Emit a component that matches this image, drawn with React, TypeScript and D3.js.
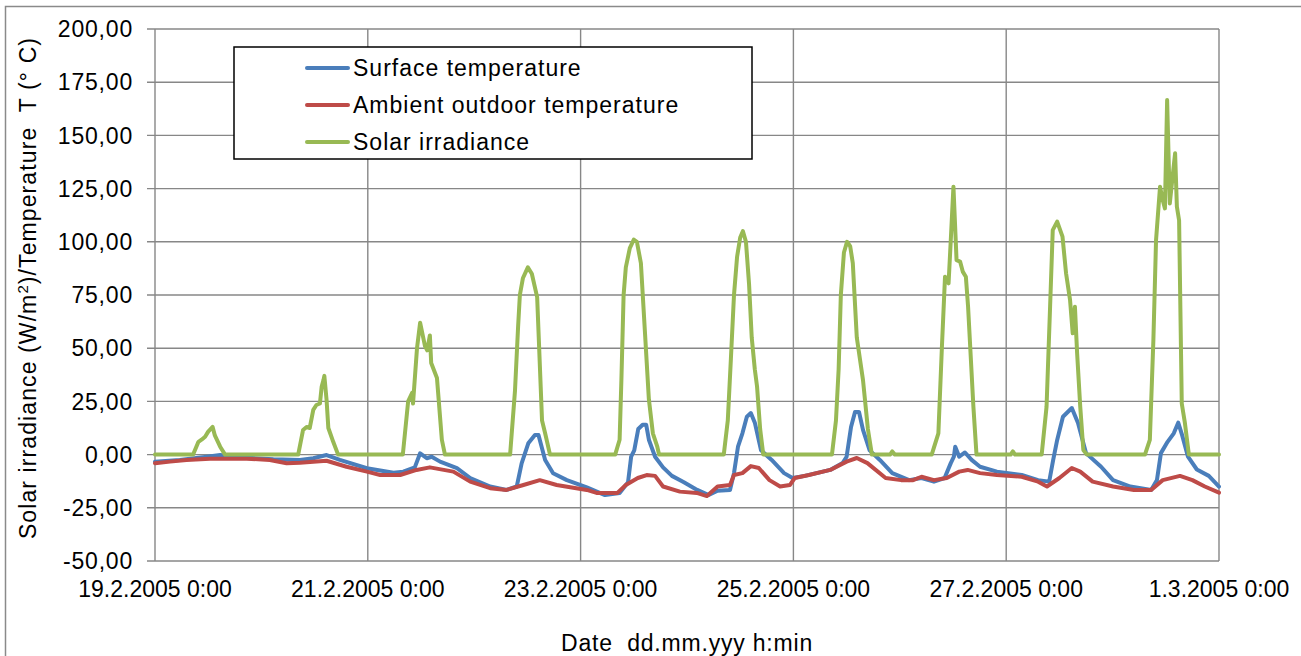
import React from "react";
import * as d3 from "d3";

// hours since 19.2.2005 0:00, value
const surfaceTemp: [number, number][] = [
  [0, -3.3], [5.6, -2.5], [11.7, -1.0], [14.7, -0.2], [19.2, -1.3], [26.7, -2.2], [32.7, -2.5],
  [35.7, -1.7], [38.7, -0.2], [41.7, -2.5], [47.8, -6.4], [53.8, -8.5], [56.0, -8.0], [58.6, -6.0],
  [59.8, 0.6], [61.3, -1.7], [62.4, -1.0], [64.3, -3.3], [68.1, -6.4], [71.1, -11], [75.6, -15],
  [79.3, -16.6], [81.6, -15], [82.7, -4.1], [84.2, 5.3], [85.7, 9.2], [86.5, 9.2], [88.0, -2.5],
  [89.8, -8.8], [92.9, -12], [97.4, -15.4], [101.5, -19], [104.8, -18], [106.7, -13], [107.4, -1],
  [108.1, 2], [109.0, 12], [110.0, 14], [110.8, 14], [111.4, 7], [112.8, -1], [114.6, -6],
  [116.6, -10], [119.3, -13], [122.3, -16.6], [124.9, -19], [126.9, -17], [129.7, -16.6],
  [130.6, -8.7], [131.5, 3.7], [132.5, 10], [133.5, 17.8], [134.4, 19.5], [135.3, 15], [136.7, 2],
  [139.1, -2.5], [141.9, -8.7], [143.8, -11], [146.6, -10], [152.3, -7.2], [155.1, -4], [156.0, -1],
  [157.0, 13], [157.9, 20], [158.8, 20], [159.7, 11.6], [161.2, 2], [163.5, -2.5], [166.3, -8.7],
  [170.1, -12], [172.9, -11], [175.7, -12.7], [178.1, -11], [179.5, -4], [180.2, -1], [180.5, 3.7],
  [181.4, -1], [182.7, 1], [184.2, -2.5], [186.1, -5.7], [189.9, -8], [195.5, -9.6], [199.2, -12],
  [201.7, -12.7], [202.6, -2.5], [203.5, 6.9], [204.8, 17.8], [206.8, 21.9], [208.2, 14.8],
  [210.0, 0.7], [213.4, -5.7], [216.1, -12], [220.0, -15], [224.7, -16.6], [226.0, -12], [226.9, 0.7],
  [228.4, 6], [229.8, 10], [230.8, 15], [231.7, 9], [233.0, -1], [235.0, -7], [237.7, -10], [240, -15],
];

const ambientTemp: [number, number][] = [
  [0, -4.1], [3.4, -3.3], [7.1, -2.5], [12.4, -1.9], [20.7, -1.9], [25.9, -2.5], [29.7, -4.1],
  [32.7, -3.8], [38.7, -2.9], [43.2, -5.7], [47.8, -8], [50.8, -9.6], [55.3, -9.6], [59.0, -7.2],
  [62.0, -6], [67.3, -8], [71.1, -12.7], [75.6, -15.8], [79.3, -16.6], [83.1, -14.3], [86.8, -12],
  [90.6, -14.3], [97.4, -16.6], [99.6, -18], [104.3, -18], [106.2, -14.3], [108.9, -11], [110.9, -9.6],
  [112.8, -10], [114.6, -15], [118.4, -17.4], [122.2, -18], [124.5, -19.5], [126.9, -15], [129.7, -14.3],
  [130.6, -9.6], [132.5, -8.7], [134.4, -5.4], [136.2, -6.3], [138.6, -12], [141.0, -15], [143.2, -14.3],
  [144.3, -11], [147.5, -9.6], [152.3, -7.2], [156.0, -3.3], [158.3, -1.6], [160.7, -4], [164.8, -11],
  [168.3, -12], [171.0, -12], [172.9, -10.4], [175.7, -12], [178.6, -11], [181.4, -8], [183.3, -7.2],
  [186.1, -8.7], [189.9, -9.6], [195.5, -10.4], [199.2, -12.7], [201.2, -15], [204.0, -11], [206.8, -6.3],
  [208.7, -8], [211.5, -12.7], [216.1, -15], [220.8, -16.6], [224.7, -16.6], [227.3, -12], [231.2, -10],
  [234.0, -12], [236.8, -15], [240, -17.9],
];

const solarIrradiance: [number, number][] = [
  [0, 0], [8.6, 0], [9.8, 6], [10.5, 7], [11.3, 8.4], [12.0, 10.8], [13.0, 13], [13.5, 9], [14.7, 3.7], [15.8, 0],
  [32.3, 0], [33.4, 11.6], [34.2, 13], [34.9, 12.5], [35.7, 21], [36.4, 23.3], [37.2, 24], [37.6, 32],
  [38.0, 35], [38.2, 37], [38.7, 25.7], [39.1, 12.5], [40.2, 6], [41.3, 0],
  [55.9, 0], [57.1, 25], [58.0, 29], [58.2, 24], [59.1, 50], [59.8, 62], [60.9, 51], [61.4, 49],
  [62.0, 56], [62.3, 43], [63.6, 36], [64.7, 7], [65.4, 0],
  [80.1, 0], [81.2, 30], [81.9, 60], [82.3, 75], [83.0, 83], [84.1, 88], [85.0, 85], [86.2, 74],
  [87.3, 16], [88.0, 10], [89.1, 0],
  [103.8, 0], [104.8, 7], [105.2, 35], [105.7, 75], [106.2, 88], [107.1, 97], [108.0, 101], [108.7, 100],
  [109.6, 90], [110.5, 58], [111.4, 26], [112.3, 10], [113.3, 3.7], [113.7, 0],
  [128.3, 0], [129.2, 16], [129.9, 45], [130.6, 75], [131.3, 93], [132.0, 102], [132.6, 105], [133.3, 100],
  [134.0, 80], [134.6, 55], [135.3, 40], [135.8, 32], [136.5, 12], [137.2, 0],
  [152.7, 0], [153.6, 16], [154.2, 40], [154.7, 75], [155.4, 95], [156.1, 100], [156.8, 98], [157.4, 90],
  [158.3, 55], [159.7, 35], [160.8, 12], [161.7, 0], [165.8, 0], [166.3, 1.5], [166.9, 0],
  [175.2, 0], [176.7, 10], [177.5, 50.7], [178.2, 83.6], [179.0, 80.5], [179.5, 100.8], [180.1, 125.9],
  [180.8, 91.4], [181.6, 90.7], [182.2, 86], [182.9, 83.6], [183.4, 69.5], [184.6, 22.5], [185.3, 0],
  [193.0, 0], [193.5, 1.5], [194.0, 0],
  [200.0, 0], [201.1, 22.5], [201.9, 69.5], [202.5, 105.5], [203.5, 109.5], [204.7, 102.4], [205.5, 85.2],
  [206.4, 72.7], [207.0, 57], [207.5, 69.5], [208.0, 47.6], [208.7, 22.5], [209.4, 2.2], [210.2, 0],
  [223.3, 0], [224.4, 6.9], [225.2, 53.9], [225.8, 100.8], [226.7, 125.9], [227.3, 119.6], [227.8, 115.7],
  [228.3, 166.6], [228.9, 118], [229.3, 126], [230.1, 141.6], [230.5, 116.5], [231.0, 110], [231.6, 24],
  [232.3, 15], [233.2, 0], [240, 0],
];

const yTicks = [-50, -25, 0, 25, 50, 75, 100, 125, 150, 175, 200];
const xTickDays = [0, 2, 4, 6, 8, 10];

const seriesNames = ["Surface temperature", "Ambient outdoor temperature", "Solar irradiance"];
const seriesColors = ["#4A7EBB", "#BE4B48", "#98B954"];

const start = Date.UTC(2005, 1, 19, 0, 0);
const HOUR = 3600 * 1000;

const left = 155, right = 1219, top = 29, bottom = 561;
const font = "'Liberation Sans', Arial, sans-serif";

const locale = d3.formatLocale({ decimal: ",", thousands: ".", grouping: [3], currency: ["", ""], minus: "-" });
const yFmt = locale.format(".2f");
const xFmt = d3.utcFormat("%-d.%-m.%Y %-H:%M");

export default function App() {
  const x = d3.scaleUtc().domain([new Date(start), new Date(start + 240 * HOUR)]).range([left, right]);
  const y = d3.scaleLinear().domain([-50, 200]).range([bottom, top]);

  const line = d3
    .line<[number, number]>()
    .x((d) => x(new Date(start + d[0] * HOUR)))
    .y((d) => y(d[1]));

  const series = [surfaceTemp, ambientTemp, solarIrradiance];
  const xTicks = xTickDays.map((d) => new Date(start + d * 24 * HOUR));

  return (
    <svg width={1301} height={656} style={{ position: "absolute", left: 0, top: 0, background: "#fff" }} fontFamily={font}>
      <rect x={5.5} y={6.5} width={1400} height={700} fill="#fff" stroke="#8a8a8a" strokeWidth={1.5} />

      {/* grid */}
      {yTicks.map((t) => (
        <line key={"gy" + t} x1={left - 8} x2={right} y1={y(t)} y2={y(t)} stroke="#878787" strokeWidth={1.4} />
      ))}
      {xTicks.map((t, i) => (
        <line key={"gx" + i} x1={x(t)} x2={x(t)} y1={top} y2={bottom} stroke="#878787" strokeWidth={1.4} />
      ))}

      {/* y tick labels */}
      {yTicks.map((t) => (
        <text key={"ly" + t} x={133} y={y(t)} dy="0.36em" textAnchor="end" fontSize={23} letterSpacing={0.8} fill="#000">
          {yFmt(t)}
        </text>
      ))}
      {/* x tick labels */}
      {xTicks.map((t, i) => (
        <text key={"lx" + i} x={x(t)} y={597} textAnchor="middle" fontSize={23} fill="#000">
          {xFmt(t)}
        </text>
      ))}

      {/* series */}
      {series.map((s, i) => (
        <path key={"s" + i} d={line(s) || ""} fill="none" stroke={seriesColors[i]} strokeWidth={4}
          strokeLinejoin="round" strokeLinecap="round" />
      ))}

      {/* legend */}
      <rect x={234} y={47} width={518} height={112} fill="#fff" stroke="#000" strokeWidth={1.5} />
      {seriesNames.map((n, i) => (
        <g key={"lg" + i}>
          <line x1={307} x2={348} y1={68 + i * 37} y2={68 + i * 37} stroke={seriesColors[i]} strokeWidth={4} strokeLinecap="round" />
          <text x={353} y={76 + i * 37} fontSize={23} letterSpacing={1} fill="#000">{n}</text>
        </g>
      ))}

      {/* axis titles */}
      <text x={687} y={651} textAnchor="middle" fontSize={23} letterSpacing={0.8} fill="#000" xmlSpace="preserve">
        Date  dd.mm.yyy h:min
      </text>
      <text transform="translate(36,288) rotate(-90)" textAnchor="middle" fontSize={23} letterSpacing={1.1} fill="#000" xmlSpace="preserve">
        Solar irradiance (W/m<tspan dy={-8} fontSize={15}>2</tspan><tspan dy={8}>)/Temperature  T (° C)</tspan>
      </text>
    </svg>
  );
}
